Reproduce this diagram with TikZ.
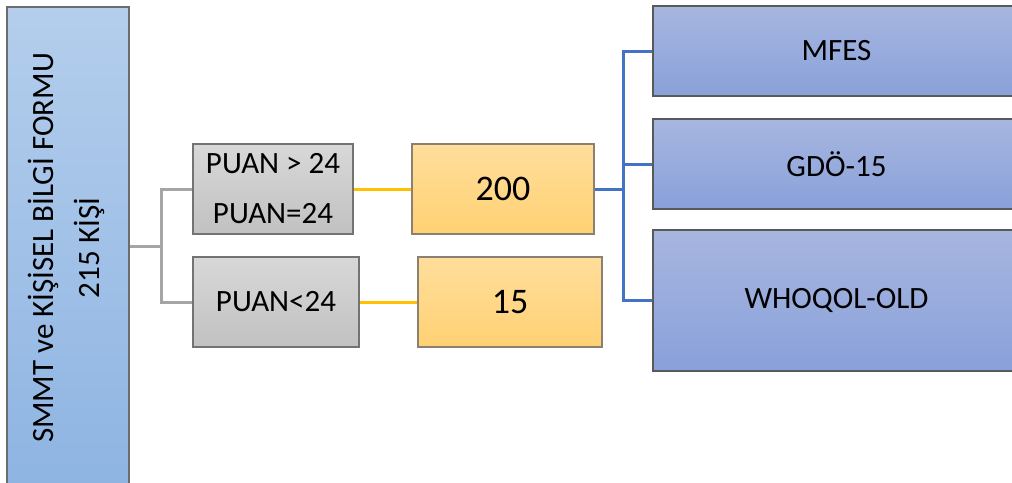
\documentclass[tikz,border=0pt]{standalone}
\usepackage{fontspec}
\setmainfont{Carlito}
\begin{document}
\begin{tikzpicture}[x=1pt,y=-1pt,
  box/.style={rectangle, draw, line width=1.6pt, inner sep=0pt, align=center, text=black},
  leftbox/.style={box, draw=gray!85!black, top color={rgb,255:red,180;green,206;blue,236}, bottom color={rgb,255:red,142;green,180;blue,226}},
  graybox/.style={box, draw=gray!90!black, top color={rgb,255:red,216;green,216;blue,216}, bottom color={rgb,255:red,193;green,193;blue,193}, font=\fontsize{31}{50}\selectfont},
  yellowbox/.style={box, draw=gray!80!brown, top color={rgb,255:red,255;green,222;blue,155}, bottom color={rgb,255:red,255;green,209;blue,115}, font=\fontsize{36}{43}\selectfont},
  bluebox/.style={box, draw=gray!70!black, top color={rgb,255:red,167;green,182;blue,224}, bottom color={rgb,255:red,137;green,161;blue,217}, font=\fontsize{31}{37}\selectfont},
  grayline/.style={draw={rgb,255:red,165;green,165;blue,165}, line width=3pt},
  yellowline/.style={draw={rgb,255:red,255;green,192;blue,0}, line width=3pt},
  blueline/.style={draw={rgb,255:red,68;green,114;blue,196}, line width=3pt}]
\useasboundingbox (0,0) rectangle (1012,482);
\begin{scope}
\clip (0,0) rectangle (1012,482);
\node[leftbox, minimum width=122pt, minimum height=483pt] (left) at (68,248.5) {};
\node[rotate=90, align=center, font=\fontsize{31}{46}\selectfont] (lefttext) at (66,248) {SMMT ve KİŞİSEL BİLGİ FORMU\\215 KİŞİ};
\node[bluebox, minimum width=367pt, minimum height=90pt] (b1) at (836.5,51) {MFES};
\node[bluebox, minimum width=367pt, minimum height=90pt] (b2) at (836.5,164) {GDÖ-15};
\node[bluebox, minimum width=367pt, minimum height=141pt] (b3) at (836.5,300.5) {WHOQOL-OLD};
\end{scope}
\node[graybox, minimum width=160pt, minimum height=90pt] (g1) at (273,189) {PUAN > 24\\PUAN=24};
\node[graybox, minimum width=166pt, minimum height=90pt] (g2) at (276,302) {PUAN<24};
\node[yellowbox, minimum width=182pt, minimum height=90pt] (y1) at (503,189) {200};
\node[yellowbox, minimum width=184pt, minimum height=90pt] (y2) at (510,302) {15};
\coordinate (gj) at (161,246);
\coordinate (bj) at (623,189);
\draw[grayline] (gj -| left.east) -- (gj);
\draw[grayline] (g1.west) -| (gj) |- (g2.west);
\draw[yellowline] (g1.east) -- (y1.west);
\draw[yellowline] (g2.east) -- (y2.west);
\draw[blueline] (y1.east) -- (bj);
\draw[blueline] (b1.west) -| (bj) |- (b3.west);
\draw[blueline] (bj |- b2.west) -- (b2.west);
\end{tikzpicture}
\end{document}
